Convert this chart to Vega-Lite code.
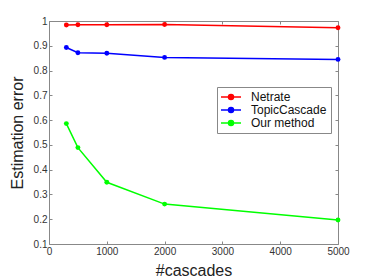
{
  "$schema": "https://vega.github.io/schema/vega-lite/v6.json",
  "width": 289,
  "height": 223,
  "autosize": {"type": "none"},
  "padding": {"left": 49, "top": 21, "right": 36, "bottom": 36},
  "background": "white",
  "config": {
    "view": {"stroke": null},
    "font": "Liberation Sans",
    "axis": {
      "grid": false,
      "domainColor": "#888888",
      "tickColor": "#888888",
      "tickSize": -3,
      "labelFlush": false,
      "labelFont": "Liberation Sans",
      "labelFontSize": 10,
      "labelColor": "#333333",
      "titleFont": "Liberation Sans",
      "titleFontWeight": "normal",
      "titleColor": "#222222"
    }
  },
  "data": {
    "values": [
      {"n": 300, "err": 0.984, "method": "Netrate"},
      {"n": 500, "err": 0.985, "method": "Netrate"},
      {"n": 1000, "err": 0.985, "method": "Netrate"},
      {"n": 2000, "err": 0.986, "method": "Netrate"},
      {"n": 5000, "err": 0.973, "method": "Netrate"},
      {"n": 300, "err": 0.893, "method": "TopicCascade"},
      {"n": 500, "err": 0.872, "method": "TopicCascade"},
      {"n": 1000, "err": 0.870, "method": "TopicCascade"},
      {"n": 2000, "err": 0.853, "method": "TopicCascade"},
      {"n": 5000, "err": 0.845, "method": "TopicCascade"},
      {"n": 300, "err": 0.586, "method": "Our method"},
      {"n": 500, "err": 0.489, "method": "Our method"},
      {"n": 1000, "err": 0.349, "method": "Our method"},
      {"n": 2000, "err": 0.261, "method": "Our method"},
      {"n": 5000, "err": 0.197, "method": "Our method"}
    ]
  },
  "layer": [
    {
      "mark": {"type": "line", "strokeWidth": 1.5, "point": {"filled": true, "size": 24}},
      "encoding": {
        "x": {
          "field": "n", "type": "quantitative",
          "scale": {"domain": [0, 5000], "nice": false, "zero": false},
          "axis": {"orient": "bottom", "values": [0, 1000, 2000, 3000, 4000, 5000], "format": "d", "title": "#cascades", "titleFontSize": 16, "labelPadding": 5, "titlePadding": 6}
        },
        "y": {
          "field": "err", "type": "quantitative",
          "scale": {"domain": [0.1, 1], "nice": false, "zero": false},
          "axis": {"orient": "left", "values": [0.1, 0.2, 0.3, 0.4, 0.5, 0.6, 0.7, 0.8, 0.9, 1], "format": ".1~f", "title": "Estimation error", "titleFontSize": 16, "labelPadding": 5, "titlePadding": 8}
        },
        "color": {
          "field": "method", "type": "nominal",
          "scale": {"domain": ["Netrate", "TopicCascade", "Our method"], "range": ["#ff0000", "#0000ff", "#00ff00"]},
          "legend": {
            "title": null,
            "orient": "none",
            "legendX": 168,
            "legendY": 66,
            "fillColor": "white",
            "strokeColor": "#888888",
            "padding": 4,
            "labelFontSize": 12,
            "labelColor": "#111111",
            "symbolSize": 100,
            "symbolStrokeWidth": 1.5,
            "symbolType": "M-2,0L2,0M-0.5,0A0.5,0.5,0,1,0,0.5,0A0.5,0.5,0,1,0,-0.5,0Z",
            "symbolOffset": 4,
            "rowPadding": 1,
            "labelOffset": 14,
            "encode": {
              "symbols": {
                "update": {
                  "stroke": {"scale": "color", "field": "value"},
                  "fill": {"scale": "color", "field": "value"}
                }
              }
            }
          }
        }
      }
    },
    {
      "mark": {"type": "point", "opacity": 0},
      "encoding": {
        "x": {
          "field": "n", "type": "quantitative",
          "scale": {"domain": [0, 5000], "nice": false, "zero": false},
          "axis": {"orient": "top", "values": [0, 1000, 2000, 3000, 4000, 5000], "labels": false, "title": null}
        },
        "y": {
          "field": "err", "type": "quantitative",
          "scale": {"domain": [0.1, 1], "nice": false, "zero": false},
          "axis": {"orient": "right", "values": [0.1, 0.2, 0.3, 0.4, 0.5, 0.6, 0.7, 0.8, 0.9, 1], "labels": false, "title": null}
        }
      }
    }
  ],
  "resolve": {"axis": {"x": "independent", "y": "independent"}}
}
